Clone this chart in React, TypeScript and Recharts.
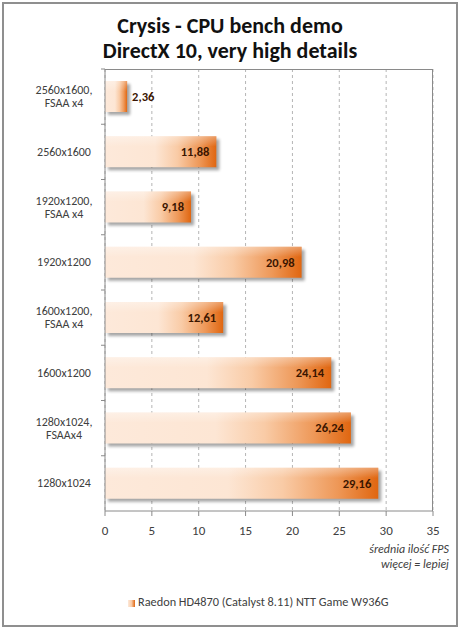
import React from "react";
import { BarChart, Bar, XAxis, YAxis, CartesianGrid, LabelList } from "recharts";

const categories = [
  "2560x1600,\nFSAA x4",
  "2560x1600",
  "1920x1200,\nFSAA x4",
  "1920x1200",
  "1600x1200,\nFSAA x4",
  "1600x1200",
  "1280x1024,\nFSAAx4",
  "1280x1024",
];
const fpsValues = [2.36, 11.88, 9.18, 20.98, 12.61, 24.14, 26.24, 29.16];
const xTicks = [0, 5, 10, 15, 20, 25, 30, 35];
const seriesName = "Raedon HD4870 (Catalyst 8.11) NTT Game W936G";
const titleLines = ["Crysis - CPU bench demo", "DirectX 10, very high details"];
const axisCaption = ["średnia ilość FPS", "więcej = lepiej"];

const data = categories.map((name, i) => ({ name, fps: fpsValues[i] }));

const FONT = "Carlito, Calibri, Lato, sans-serif";
const W = 460;
const H = 629;
const TOP = 69;
const BOTTOM = 118;
const BAND = (H - TOP - BOTTOM) / categories.length;

function BarShape(props: any) {
  const { x, y, width, height } = props;
  if (!width || width <= 0) return null;
  return (
    <g>
      <rect x={x} y={y} width={width} height={height} fill="#000" opacity={0.35} filter="url(#shadowBlur)" transform="translate(3,3)" />
      <rect x={x} y={y} width={width} height={height} fill="url(#barFill)" />
      <rect x={x} y={y} width={width} height={height / 3} fill="url(#barShine)" />
    </g>
  );
}

function ValueLabel(props: any) {
  const { x, y, width, height, value } = props;
  const text = Number(value).toFixed(2).replace(".", ",");
  const inside = width > 45;
  return (
    <text
      x={inside ? x + width - 7 : x + width + 5}
      y={y + height / 2}
      dy="0.35em"
      textAnchor={inside ? "end" : "start"}
      fontFamily={FONT}
      fontWeight="bold"
      fontSize={12.5}
      fill="#3a1500"
    >
      {text}
    </text>
  );
}

function CategoryTick(props: any) {
  const { x, y, payload } = props;
  const lines = String(payload.value).split("\n");
  const start = -((lines.length - 1) * 13) / 2;
  return (
    <g>
      <line x1={x - 4} y1={y - BAND / 2} x2={x} y2={y - BAND / 2} stroke="#8a8a8a" />
      <text x={x - 41} y={y} textAnchor="middle" fontFamily={FONT} fontSize={12} fill="#404040">
        {lines.map((l, i) => (
          <tspan key={i} x={x - 41} dy={i === 0 ? start + 4 : 13}>
            {l}
          </tspan>
        ))}
      </text>
    </g>
  );
}

export default function App() {
  return (
    <div style={{ position: "absolute", left: 0, top: 0, width: W, height: H, background: "#fff", fontFamily: FONT }}>
      <div
        style={{
          position: "absolute",
          left: 2,
          top: 2,
          width: W - 8,
          height: H - 8,
          border: "2px solid #8f8f8f",
        }}
      />
      <div
        style={{
          position: "absolute",
          left: 0,
          top: 13,
          width: W,
          textAlign: "center",
          fontWeight: "bold",
          fontSize: 22,
          lineHeight: "25px",
          color: "#111",
        }}
      >
        {titleLines.map((t) => (
          <div key={t}>{t}</div>
        ))}
      </div>
      <BarChart
        width={W}
        height={H}
        data={data}
        layout="vertical"
        margin={{ top: TOP, right: 27, bottom: BOTTOM - 30, left: 0 }}
        style={{ position: "absolute", left: 0, top: 0 }}
      >
        <defs>
          <linearGradient id="barFill" x1="0" y1="0" x2="1" y2="0">
            <stop offset="0%" stopColor="#fde9da" />
            <stop offset="45%" stopColor="#fde6d4" />
            <stop offset="65%" stopColor="#f9cba6" />
            <stop offset="85%" stopColor="#ee9858" />
            <stop offset="100%" stopColor="#e06610" />
          </linearGradient>
          <linearGradient id="barShine" x1="0" y1="0" x2="0" y2="1">
            <stop offset="0%" stopColor="#fff" stopOpacity={0.35} />
            <stop offset="100%" stopColor="#fff" stopOpacity={0} />
          </linearGradient>
          <filter id="shadowBlur" x="-10%" y="-30%" width="130%" height="180%">
            <feGaussianBlur stdDeviation="1.5" />
          </filter>
        </defs>
        <CartesianGrid horizontal={false} stroke="#b5b5b5" strokeDasharray="3 3" />
        <XAxis
          type="number"
          domain={[0, 35]}
          ticks={xTicks}
          interval={0}
          height={30}
          stroke="#8a8a8a"
          tickSize={5}
          tickMargin={10}
          tick={{ fill: "#404040", fontSize: 13, fontFamily: FONT }}
        />
        <YAxis
          type="category"
          dataKey="name"
          width={105}
          stroke="#8a8a8a"
          tickLine={false}
          tickSize={0}
          tickMargin={0}
          interval={0}
          tick={<CategoryTick />}
        />
        <Bar dataKey="fps" name={seriesName} barSize={31} shape={<BarShape />} isAnimationActive={false}>
          <LabelList dataKey="fps" content={<ValueLabel />} />
        </Bar>
      </BarChart>
      <div
        style={{
          position: "absolute",
          left: 105,
          top: TOP,
          width: W - 27 - 105,
          height: H - TOP - BOTTOM,
          borderTop: "1px solid #8a8a8a",
          borderRight: "1px solid #8a8a8a",
          boxSizing: "border-box",
          pointerEvents: "none",
        }}
      />
      <div
        style={{
          position: "absolute",
          right: W - 449,
          top: 542,
          textAlign: "right",
          fontStyle: "italic",
          fontSize: 12,
          lineHeight: "15px",
          color: "#404040",
        }}
      >
        {axisCaption.map((t) => (
          <div key={t}>{t}</div>
        ))}
      </div>
      <div
        style={{
          position: "absolute",
          left: 128,
          top: 594,
          whiteSpace: "nowrap",
          fontSize: 12.3,
          color: "#404040",
        }}
      >
        <span
          style={{
            display: "inline-block",
            width: 7,
            height: 7,
            marginRight: 3,
            verticalAlign: "middle",
            background: "linear-gradient(to right, #fde9da, #f9cba6, #e06610)",
          }}
        />
        {seriesName}
      </div>
    </div>
  );
}
